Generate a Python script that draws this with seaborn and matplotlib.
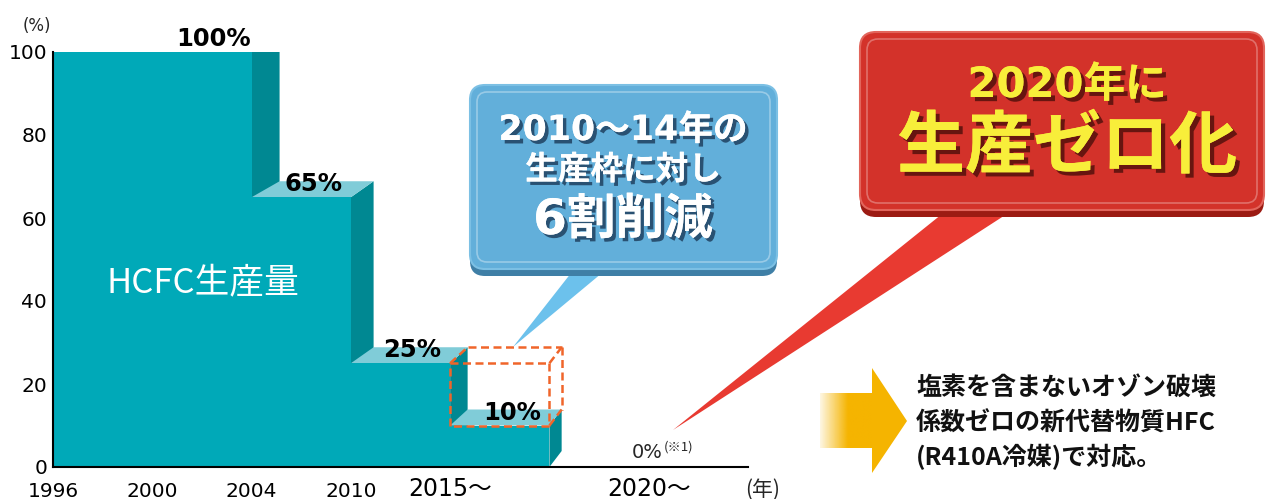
import numpy as np
import matplotlib
matplotlib.use("Agg")
import matplotlib.pyplot as plt
import seaborn as sns
from matplotlib.patches import Polygon, FancyBboxPatch
from matplotlib import patheffects as pe

# ---- data -------------------------------------------------------------
tick_labels = ["1996", "2000", "2004", "2010", "2015～", "2020～"]
tick_slots = [0, 1, 2, 3, 4, 6]          # slot of each label on the time axis
step_edges = [0, 2, 3, 4, 5]             # slot boundaries of the production steps
share_pct = [100, 65, 25, 10]            # HCFC production, % of baseline
share_labels = ["100%", "65%", "25%", "10%"]
final_slot = 6
final_share = 0

# ---- style ------------------------------------------------------------
sns.set_style("white")
plt.rcParams["font.family"] = ["DejaVu Sans", "Noto Sans CJK JP"]
MIX = ["DejaVu Sans", "Noto Sans CJK JP"]
JP = ["Noto Sans CJK JP", "DejaVu Sans"]

FRONT = "#00a9b8"
SIDE = "#008892"
TOP = "#80ccd8"
DASH = "#f0652a"

W, H = 1266, 499
fig = plt.figure(figsize=(W / 100, H / 100), dpi=100)
ax = fig.add_axes([53 / W, 32 / H, 695 / W, 415 / H])

# front faces of the steps as weighted histogram bars
sns.histplot(x=step_edges[:-1], weights=share_pct, bins=step_edges,
             stat="count", color=FRONT, alpha=1, linewidth=0,
             edgecolor="none", ax=ax)
ax.set_xlim(0, 7)
ax.set_ylim(0, 100)
ax.set_xlabel("")
ax.set_ylabel("")

# ---- pseudo-3D depth of each step --------------------------------------
DY = 16.0


def depth_dx(xpix):
    return 0.053 * (780.0 - xpix)


to_disp = ax.transData.transform
to_data = ax.transData.inverted().transform

bars = sorted(ax.patches, key=lambda p: p.get_x())
for i, p in enumerate(bars):
    x0, x1, h = p.get_x(), p.get_x() + p.get_width(), p.get_height()
    X0, Yb = to_disp((x0, 0))
    X1, Yh = to_disp((x1, h))
    d0, d1 = depth_dx(X0), depth_dx(X1)
    side = [(X1, Yb), (X1, Yh), (X1 + d1, Yh + DY), (X1 + d1, Yb + DY)]
    top = [(X0, Yh), (X1, Yh), (X1 + d1, Yh + DY), (X0 + d0, Yh + DY)]
    base = 2 + 3 * i
    ax.add_patch(Polygon(to_data(side), closed=True, facecolor=SIDE,
                         edgecolor="none", zorder=base))
    ax.add_patch(Polygon(to_data(top), closed=True, facecolor=TOP,
                         edgecolor="none", zorder=base + 1))
    p.set_zorder(base + 2)
    ax.annotate(share_labels[i], xy=(x1 - 0.38, h), xytext=(0, 6),
                textcoords="offset pixels", ha="center", va="baseline",
                fontsize=17.5, fontweight="bold", color="black",
                annotation_clip=False, zorder=30)

# dashed wireframe of the cut between the 2010 and 2015 levels
bx0, bx1 = step_edges[3], step_edges[4]
lo, hi = share_pct[3], share_pct[2]
P = {}
for key, (x, y) in {"fl_t": (bx0, hi), "fr_t": (bx1, hi), "fl_b": (bx0, lo),
                    "fr_b": (bx1, lo)}.items():
    P[key] = to_disp((x, y))
for key in ["fl_t", "fr_t", "fr_b"]:
    X, Y = P[key]
    P["b" + key[1:]] = (X + depth_dx(X), Y + DY)
segs = [("fl_t", "fr_t"), ("fr_t", "fr_b"), ("fr_b", "fl_b"), ("fl_b", "fl_t"),
        ("fl_t", "bl_t"), ("bl_t", "br_t"), ("fr_t", "br_t"), ("br_t", "br_b"),
        ("fr_b", "br_b")]
for a, b in segs:
    pts = to_data([P[a], P[b]])
    ax.plot(pts[:, 0], pts[:, 1], color=DASH, lw=1.8, ls=(0, (3.2, 1.8)),
            zorder=25, clip_on=False, solid_capstyle="butt")

# zero share in 2020
ax.annotate(f"{final_share}%", xy=(final_slot, final_share), xytext=(-2, 9),
            textcoords="offset pixels", ha="center", va="baseline",
            fontsize=14, annotation_clip=False)
ax.annotate("(※1)", xy=(final_slot, final_share), xytext=(15, 16),
            textcoords="offset pixels", ha="left", va="baseline",
            fontsize=9.5, family=JP, annotation_clip=False)

# ---- axes -------------------------------------------------------------
ax.set_xticks(tick_slots)
ax.set_xticklabels(tick_labels)
ax.set_yticks([0, 20, 40, 60, 80, 100])
for s in ["top", "right"]:
    ax.spines[s].set_visible(False)
for s in ["left", "bottom"]:
    ax.spines[s].set_linewidth(1.5)
    ax.spines[s].set_color("black")
    ax.spines[s].set_zorder(40)
ax.tick_params(axis="x", direction="in", length=3.6, width=1.1,
               labelsize=14.5, pad=11, colors="black")
ax.tick_params(axis="y", direction="in", length=4.3, width=1.1,
               labelsize=14.5, pad=4.3, colors="black")
ax.set_facecolor("none")
xt = ax.xaxis.get_major_ticks()
for i in (4, 5):
    xt[i].set_pad(7.5)
    xt[i].label1.set_fontsize(17)

# ---- overlay in pixel coordinates ---------------------------------------
ov = fig.add_axes([0, 0, 1, 1])
ov.set_zorder(5)
ov.axis("off")


def rbox(x0, y0, x1, y1, r, **kw):
    return FancyBboxPatch((x0 + r, y0 + r), x1 - x0 - 2 * r, y1 - y0 - 2 * r,
                          boxstyle=f"round,pad={r},rounding_size={r}", **kw)


ov.text(37, 26, "(%)", fontsize=12, ha="center", va="center")
ov.text(763, 490, "(年)", fontsize=15, family=JP, ha="center", va="center")
ov.text(203, 283, "HCFC生産量", fontsize=25, family=JP, color="white",
        ha="center", va="center")

# pointers
ov.add_patch(Polygon([(575, 268), (608, 268), (513, 347)], closed=True,
                     facecolor="#6cc1ec", edgecolor="none", zorder=2))
ov.add_patch(Polygon([(947, 210), (1013, 210), (673, 430)], closed=True,
                     facecolor="#e83a31", edgecolor="none", zorder=2))

# blue callout
ov.add_patch(rbox(470, 85, 777, 276, 15, facecolor="#3f7fa6",
                  edgecolor="none", zorder=3))
ov.add_patch(rbox(470, 85, 777, 269, 15, facecolor="#62afda",
                  edgecolor="#7cc0e4", lw=1.5, zorder=4))
ov.add_patch(rbox(477, 92, 770, 262, 10, facecolor="none",
                  edgecolor="white", alpha=0.35, lw=1.2, zorder=5))
sh_blue = [pe.withSimplePatchShadow(offset=(2.5, -2.5), shadow_rgbFace="#17324f",
                                    alpha=0.75), pe.Normal()]
ov.text(623, 130, "2010～14年の", fontsize=25, fontweight="bold", family=MIX,
        color="white", ha="center", va="center", path_effects=sh_blue, zorder=6)
ov.text(623, 170, "生産枠に対し", fontsize=23.5, fontweight="bold", family=JP,
        color="white", ha="center", va="center", path_effects=sh_blue, zorder=6)
ov.text(623, 220, "6割削減", fontsize=35, fontweight="bold", family=MIX,
        color="white", ha="center", va="center", path_effects=sh_blue, zorder=6)

# red callout
ov.add_patch(rbox(860, 32, 1264, 217, 16, facecolor="#9c1b13",
                  edgecolor="none", zorder=3))
ov.add_patch(rbox(860, 32, 1264, 210, 16, facecolor="#d3322a",
                  edgecolor="#e2655c", lw=1.5, zorder=4))
ov.add_patch(rbox(867, 39, 1257, 203, 11, facecolor="none",
                  edgecolor="white", alpha=0.3, lw=1.2, zorder=5))
sh_red = [pe.withSimplePatchShadow(offset=(3, -3), shadow_rgbFace="#3a0a06",
                                   alpha=0.7), pe.Normal()]
ov.text(1067, 85, "2020年に", fontsize=30, fontweight="bold", family=MIX,
        color="#f8ee3a", ha="center", va="center", path_effects=sh_red, zorder=6)
ov.text(1067, 148, "生産ゼロ化", fontsize=49, fontweight="bold", family=JP,
        color="#f8ee3a", ha="center", va="center", path_effects=sh_red, zorder=6)

# orange arrow with a fading tail
ax_orange = np.array([245, 180, 0]) / 255.0
n = 64
t = np.linspace(0, 1, n)
grad = np.zeros((2, n, 4))
grad[..., :3] = ax_orange
grad[..., 3] = np.clip(0.12 + t / 0.6, 0, 1)
ov.imshow(grad, extent=[820, 873, 448, 393], aspect="auto",
          interpolation="bilinear", zorder=3)
ov.add_patch(Polygon([(872, 368), (907, 421), (872, 473)], closed=True,
                     facecolor="#f5b400", edgecolor="none", zorder=3))

for y, line in zip([388, 424, 457], ["塩素を含まないオゾン破壊",
                                     "係数ゼロの新代替物質HFC",
                                     "(R410A冷媒)で対応。"]):
    ov.text(916, y, line, fontsize=18, fontweight="bold", family=JP,
            color="#111111", ha="left", va="center", zorder=6)

ov.set_xlim(0, W)
ov.set_ylim(H, 0)

fig.savefig("out.png", dpi=100)
